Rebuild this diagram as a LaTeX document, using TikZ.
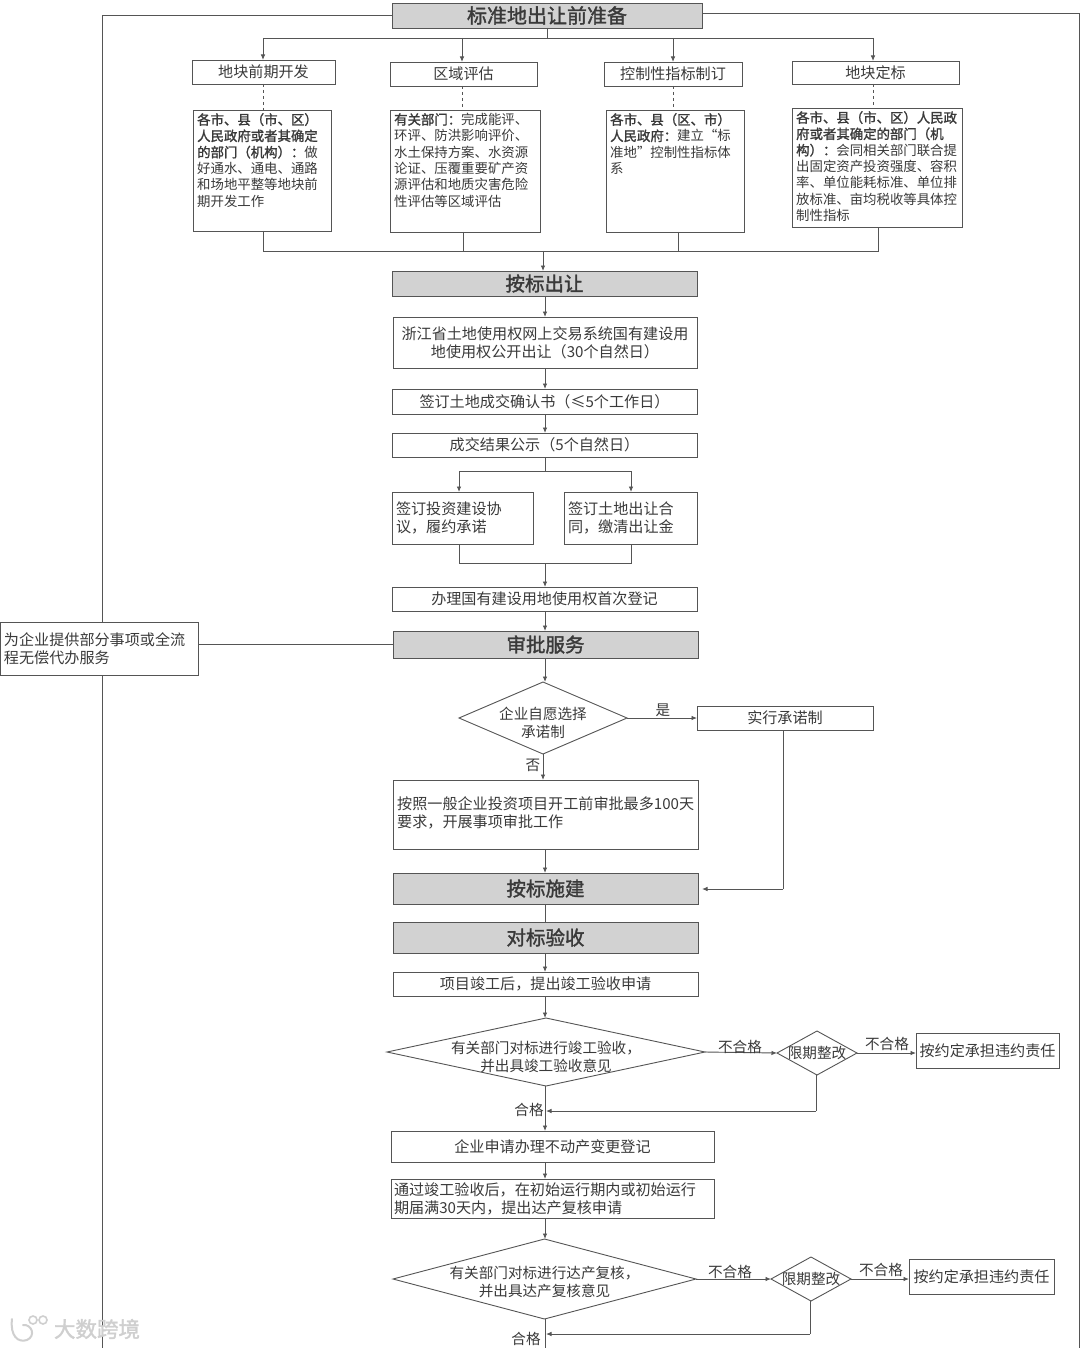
\documentclass[tikz,border=0pt]{standalone}
\usepackage{fontspec}
\setmainfont{Noto Sans CJK SC}[BoldFont={Noto Sans CJK SC},BoldFeatures={FakeBold=1.6}]
\usetikzlibrary{arrows.meta,shapes.geometric}
\definecolor{ln}{HTML}{555555}
\definecolor{tx}{HTML}{3A3A3A}
\definecolor{hd}{HTML}{D2D2D2}
\definecolor{wm}{HTML}{CFCFCF}
\tikzset{
  x=1pt,y=-1pt,
  base/.style={draw=ln,line width=0.9pt,inner sep=0pt,outer sep=0pt,text=tx,align=center},
  plain/.style={base,fill=white,font=\fontsize{15.1}{18}\selectfont},
  headbox/.style={base,fill=hd,font=\fontsize{19.5}{24}\selectfont\bfseries},
  flow/.style={draw=ln,line width=0.9pt},
  arr/.style={flow,-{Latex[length=5.5pt,width=4.5pt]}},
  lab/.style={text=tx,inner sep=0pt,font=\fontsize{14.6}{18}\selectfont},
  dia/.style={base,fill=white,diamond,aspect=2,font=\fontsize{14.6}{18}\selectfont},
}
\newcommand{\bx}[7][plain]{\node[#1,minimum width={(#5-#3)*1pt},minimum height={(#6-#4)*1pt}] (#2) at ({(#3+#5)/2},{(#4+#6)/2}) {#7};}
% top-left text box: name,x0,y0,x1,y1,pad-top,text
\newcommand{\tb}[7]{\node[plain,minimum width={(#4-#2)*1pt},minimum height={(#5-#3)*1pt}] (#1) at ({(#2+#4)/2},{(#3+#5)/2}) {};
  \node[inner sep=0pt,anchor=north west,align=left,text=tx,font=\fontsize{13.4}{16.3}\selectfont] (#1t) at (#2+4,#3+#6) {#7};}
% diamond: name,x0,y0,x1,y1,text shift,text
\newcommand{\dm}[7]{\node[dia,minimum width={(#4-#2)*1pt},minimum height={(#5-#3)*1pt}] (#1) at ({(#2+#4)/2},{(#3+#5)/2}) {\smash{\raisebox{-#6pt}{\makebox[0pt]{\begin{tabular}{@{}c@{}}#7\end{tabular}}}}};}
\begin{document}
\begin{tikzpicture}
\useasboundingbox (0,0) rectangle (1080,1348);
\fill[white] (0,0) rectangle (1080,1348);
\coordinate (sp) at (545,0);

% outer frame
\coordinate (fl1) at (102,15); \coordinate (fl2) at (102,1348);
\coordinate (fr1) at (1079,13); \coordinate (fr2) at (1079,1348);

% header
\bx[headbox]{hdr}{392}{3}{702}{28}{\fontsize{20}{24}\selectfont 标准地出让前准备}
\draw[flow] (hdr.west |- fl1) -- (fl1) -- (fl2);
\draw[flow] (hdr.east |- fr1) -- (fr1) -- (fr2);

\bx{a1}{192}{60}{335}{84}{地块前期开发}
\bx{a2}{390}{62}{537}{86}{区域评估}
\bx{a3}{604}{62}{742}{86}{控制性指标制订}
\bx{a4}{792}{61}{959}{84}{地块定标}

\tb{b1}{193}{110}{331}{231}{3}{\textbf{各市、县（市、区）}\\\textbf{人民政府或者其确定}\\\textbf{的部门（机构）：}做\\好通水、通电、通路\\和场地平整等地块前\\期开发工作}
\tb{b2}{390}{110}{540}{232}{3}{\textbf{有关部门：}完成能评、\\环评、防洪影响评价、\\水土保持方案、水资源\\论证、压覆重要矿产资\\源评估和地质灾害危险\\性评估等区域评估}
\tb{b3}{606}{110}{744}{232}{3}{\textbf{各市、县（区、市）}\\\textbf{人民政府：}建立“标\\准地”控制性指标体\\系}
\tb{b4}{792}{108}{962}{227}{3}{\textbf{各市、县（市、区）人民政}\\\textbf{府或者其确定的部门（机}\\\textbf{构）：}会同相关部门联合提\\出固定资产投资强度、容积\\率、单位能耗标准、单位排\\放标准、亩均税收等具体控\\制性指标}

% top bus
\coordinate (t1) at (263,38); \coordinate (t2) at (462,38); \coordinate (t3) at (673,38); \coordinate (t4) at (873,38);
\draw[flow] (hdr.south) -- (hdr.south |- t1);
\draw[flow] (t1) -- (t4);
\draw[arr] (t1) -- (t1 |- a1.north);
\draw[arr] (t2) -- (t2 |- a2.north);
\draw[arr] (t3) -- (t3 |- a3.north);
\draw[arr] (t4) -- (t4 |- a4.north);
% dashed links
\draw[flow,dashed] (t1 |- a1.south) -- (t1 |- b1.north);
\draw[flow,dashed] (t2 |- a2.south) -- (t2 |- b2.north);
\draw[flow,dashed] (t3 |- a3.south) -- (t3 |- b3.north);
\draw[flow,dashed] (t4 |- a4.south) -- (t4 |- b4.north);
% bottom bus
\coordinate (u1) at (263,251); \coordinate (u2) at (463,251); \coordinate (u3) at (678,251); \coordinate (u4) at (878,251); \coordinate (um) at (543,251);
\draw[flow] (u1 |- b1.south) -- (u1) -- (u4) -- (u4 |- b4.south);
\draw[flow] (u2 |- b2.south) -- (u2);
\draw[flow] (u3 |- b3.south) -- (u3);

\bx[headbox]{c0}{392}{271}{697}{296}{按标出让}
\draw[arr] (um) -- (um |- c0.north);
\bx{c1}{393}{317}{697}{368}{浙江省土地使用权网上交易系统国有建设用\\地使用权公开出让（30个自然日）}
\bx{c2}{392}{389}{697}{414}{签订土地成交确认书（≤5个工作日）}
\bx{c3}{392}{433}{697}{457}{成交结果公示（5个自然日）}
\node[plain,align=left,text width=133pt,minimum width=141pt,minimum height=52pt] (c4) at (462.5,518) {签订投资建设协\\议，履约承诺};
\node[plain,align=left,text width=125pt,minimum width=133pt,minimum height=52pt] (c5) at (630.5,518) {签订土地出让合\\同，缴清出让金};
\bx{c6}{392}{587}{697}{611}{办理国有建设用地使用权首次登记}
\bx[headbox]{c7}{393}{631}{698}{658}{审批服务}

\draw[arr] (sp |- c0.south) -- (sp |- c1.north);
\draw[arr] (sp |- c1.south) -- (sp |- c2.north);
\draw[arr] (sp |- c2.south) -- (sp |- c3.north);
\coordinate (s1) at (459,471); \coordinate (s2) at (631,471);
\draw[flow] (sp |- c3.south) -- (sp |- s1);
\draw[flow] (s1) -- (s2);
\draw[arr] (s1) -- (s1 |- c4.north);
\draw[arr] (s2) -- (s2 |- c5.north);
\coordinate (m1) at (459,563); \coordinate (m2) at (631,563);
\draw[flow] (m1 |- c4.south) -- (m1) -- (m2) -- (m2 |- c5.south);
\draw[arr] (sp |- m1) -- (sp |- c6.north);
\draw[arr] (sp |- c6.south) -- (sp |- c7.north);

% side box
\node[plain,align=left,text width=190pt,minimum width=198pt,minimum height=53pt] (sd) at (99,648.5) {为企业提供部分事项或全流\\程无偿代办服务};
\draw[flow] (sd.east |- c7.west) -- (c7.west);

% approval
\dm{d1}{459}{682}{627}{754}{10}{企业自愿选择\\承诺制}
\bx{e1}{697}{706}{873}{730}{实行承诺制}
\bx{c8}{393}{780}{698}{849}{}
\node[lab,anchor=west,align=left,font=\fontsize{15.1}{18}\selectfont] (c8t) at (397,813) {按照一般企业投资项目开工前审批最多100天\\要求，开展事项审批工作};
\bx[headbox]{c9}{393}{873}{698}{904}{按标施建}
\bx[headbox]{c10}{393}{922}{698}{953}{对标验收}
\bx{c11}{393}{972}{698}{996}{项目竣工后，提出竣工验收申请}
\draw[arr] (sp |- c7.south) -- (sp |- d1.north);
\draw[arr] (d1.east) -- (d1.east -| e1.west);
\node[lab] (ly) at (663,710) {是};
\draw[arr] (d1.south) -- (d1.south |- c8.north);
\node[lab] (ln) at (533,765) {否};
\coordinate (g1) at (783,889); \coordinate (g2) at (702,889);
\draw[flow] (g1 |- e1.south) -- (g1);
\draw[arr] (g1) -- (g2);
\draw[arr] (sp |- c8.south) -- (sp |- c9.north);
\draw[flow] (sp |- c9.south) -- (sp |- c10.north);
\draw[arr] (sp |- c10.south) -- (sp |- c11.north);

% first acceptance
\dm{d2}{387}{1018}{705}{1086}{10}{有关部门对标进行竣工验收，\\并出具竣工验收意见}
\dm{d3}{777}{1031}{857}{1075}{5}{限期整改}
\bx{f1}{916}{1033}{1059}{1068}{按约定承担违约责任}
\bx{c12}{391}{1131}{714}{1162}{企业申请办理不动产变更登记}
\node[plain,align=left,text width=317pt,minimum width=323pt,minimum height=39pt] (c13) at (552.5,1198.5) {通过竣工验收后，在初始运行期内或初始运行\\期届满30天内，提出达产复核申请};
\draw[arr] (sp |- c11.south) -- (sp |- d2.north);
\draw[arr] (d2.east) -- (d3.west);
\node[lab] (l1) at (740,1047) {不合格};
\draw[arr] (d3.east) -- (d3.east -| f1.west);
\node[lab] (l2) at (887,1044) {不合格};
\coordinate (h1) at (816,1111); \coordinate (h2) at (546,1111);
\draw[flow] (h1 |- d3.south) -- (h1);
\draw[arr] (h1) -- (h2);
\node[lab] (l3) at (529,1110) {合格};
\draw[arr] (sp |- d2.south) -- (sp |- c12.north);
\draw[arr] (sp |- c12.south) -- (sp |- c13.north);

% second acceptance
\dm{d4}{393}{1239}{696}{1319}{8}{有关部门对标进行达产复核，\\并出具达产复核意见}
\dm{d5}{771}{1257}{851}{1301}{5}{限期整改}
\bx{f2}{909}{1259}{1054}{1294}{按约定承担违约责任}
\draw[arr] (sp |- c13.south) -- (sp |- d4.north);
\draw[arr] (d4.east) -- (d5.west);
\node[lab] (l4) at (730,1272) {不合格};
\draw[arr] (d5.east) -- (d5.east -| f2.west);
\node[lab] (l5) at (881,1270) {不合格};
\coordinate (k1) at (810,1334); \coordinate (k2) at (546,1334); \coordinate (k3) at (545,1348);
\draw[flow] (k1 |- d5.south) -- (k1);
\draw[arr] (k1) -- (k2);
\draw[flow] (sp |- d4.south) -- (k3);
\node[lab] (l6) at (526,1339) {合格};

% watermark
\node[text=wm,inner sep=0pt,font=\fontsize{21.5}{24}\selectfont\bfseries] (wm) at (97,1329) {大数跨境};
\draw[wm,line width=2pt,line cap=round] (12,1319) .. controls (10,1336) and (18,1343) .. (27,1340) .. controls (36,1336) and (32,1324) .. (23,1325);
\draw[wm,line width=1.6pt] (33,1320) circle[radius=4pt] (43,1320) circle[radius=4pt];
\end{tikzpicture}
\end{document}
